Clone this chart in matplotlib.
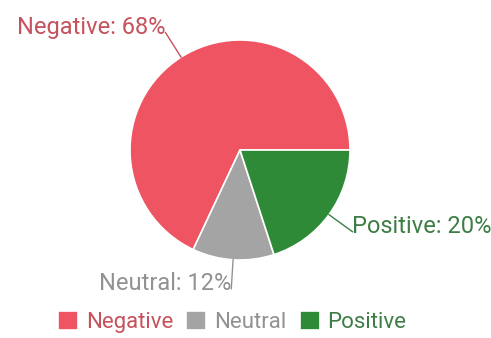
import numpy as np
import matplotlib.pyplot as plt

# sentiment share
labels = ['Negative', 'Neutral', 'Positive']
shares = [68, 12, 20]
colors = ['#ee5461', '#a4a4a4', '#2f8a37']
text_colors = ['#c5525c', '#929292', '#3e7e46']

plt.rcParams['font.family'] = ['Roboto', 'DejaVu Sans']

fig = plt.figure(figsize=(4.91, 3.38), dpi=100)
ax = fig.add_axes([0, 0, 1, 1])

cx, cy, r = 240, 188, 110
wedges, _ = ax.pie(shares, colors=colors, startangle=0, center=(cx, cy), radius=r,
                   wedgeprops=dict(edgecolor='white', linewidth=1.2), frame=True)
ax.set_xlim(0, 491)
ax.set_ylim(0, 338)
ax.set_aspect('equal')
ax.axis('off')

# leader lines and labels
for w, lab, val, tc in zip(wedges, labels, shares, text_colors):
    ang = np.deg2rad((w.theta1 + w.theta2) / 2)
    x0, y0 = cx + r * np.cos(ang), cy + r * np.sin(ang)
    x1, y1 = cx + (r + 29) * np.cos(ang), cy + (r + 29) * np.sin(ang)
    ax.plot([x0, x1], [y0, y1], color=tc, lw=1)
    ha = 'left' if np.cos(ang) > 0 else 'right'
    ax.text(x1, y1 - 1, f'{lab}: {val}%', ha=ha, va='baseline', fontsize=17, color=tc)

fig.legend(wedges, labels, loc='center', bbox_to_anchor=(0.473, 0.047), ncol=3,
           frameon=False, fontsize=16, labelcolor=text_colors,
           handlelength=0.9, handleheight=0.9, handletextpad=0.35, columnspacing=0.6)

fig.savefig('out.png', dpi=100)
